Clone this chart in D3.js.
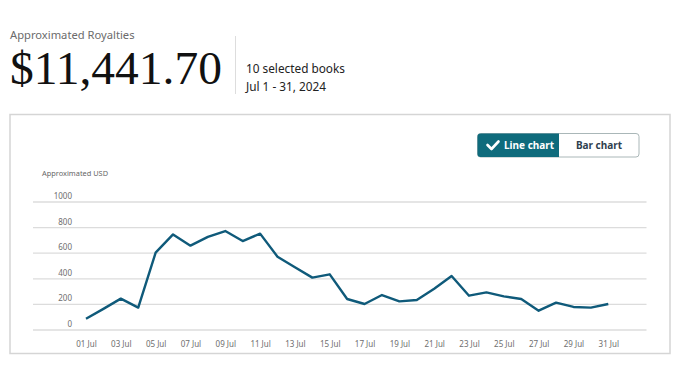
<!DOCTYPE html>
<html>
<head>
<meta charset="utf-8">
<script src="https://cdn.jsdelivr.net/npm/d3@7"></script>
<style>
  html, body { margin: 0; padding: 0; background: #fff; }
  svg { display: block; }
</style>
</head>
<body>
<svg id="chart" width="680" height="385"></svg>
<script>
const days = d3.range(1, 32);
const royalties = [88, 165, 245, 175, 604, 747, 659, 727, 773, 695, 753, 573, 490, 409, 435,
  242, 203, 273, 224, 234, 323, 422, 268, 294, 263, 242, 151, 214, 180, 175, 203];
const yTicks = [0, 200, 400, 600, 800, 1000];
const xTickDays = [1, 3, 5, 7, 9, 11, 13, 15, 17, 19, 21, 23, 25, 27, 29, 31];
const totalLabel = "$11,441.70";
const titleLabel = "Approximated Royalties";
const subLabels = ["10 selected books", "Jul 1 - 31, 2024"];
const yAxisTitle = "Approximated USD";
const toggleLabels = ["Line chart", "Bar chart"];

const sans = "'Noto Sans', 'Open Sans', sans-serif";
const svg = d3.select("#chart");

// Header
svg.append("text").attr("x", 10).attr("y", 39).attr("font-family", sans)
  .attr("font-size", 11.2).attr("fill", "#6b6b6b").text(titleLabel);
svg.append("text").attr("x", 10).attr("y", 84).attr("font-family", "'Liberation Serif', 'DejaVu Serif', serif")
  .attr("font-size", 46).attr("fill", "#111").attr("textLength", 212).attr("lengthAdjust", "spacingAndGlyphs")
  .text(totalLabel);
svg.append("line").attr("x1", 235.5).attr("x2", 235.5).attr("y1", 36).attr("y2", 94)
  .attr("stroke", "#ddd").attr("stroke-width", 1);
svg.selectAll("text.sub").data(subLabels).join("text").attr("class", "sub")
  .attr("x", 246).attr("y", (d, i) => 72.5 + i * 18).attr("font-family", sans)
  .attr("font-size", 11.8).attr("fill", "#222").text(d => d);

// Chart box
svg.append("rect").attr("x", 10).attr("y", 114.5).attr("width", 660).attr("height", 239)
  .attr("fill", "none").attr("stroke", "#d5d5d5").attr("stroke-width", 1.5);

// Toggle
const tg = svg.append("g");
tg.append("rect").attr("x", 477.5).attr("y", 133.5).attr("width", 161.5).attr("height", 23.5)
  .attr("rx", 3).attr("fill", "#fff").attr("stroke", "#aab7b8").attr("stroke-width", 1);
tg.append("path").attr("d", "M480.5,133.5 H559 V157 H480.5 A3,3 0 0 1 477.5,154 V136.5 A3,3 0 0 1 480.5,133.5 Z")
  .attr("fill", "#0f6b7c");
tg.append("path").attr("d", "M487.5,145 L491.5,149 L498.5,141.5").attr("fill", "none")
  .attr("stroke", "#fff").attr("stroke-width", 2.6).attr("stroke-linecap", "round").attr("stroke-linejoin", "round");
tg.append("text").attr("x", 504).attr("y", 149).attr("font-family", sans).attr("font-weight", 700)
  .attr("font-size", 10).attr("fill", "#fff").text(toggleLabels[0]);
tg.append("text").attr("x", 599).attr("y", 149).attr("text-anchor", "middle").attr("font-family", sans)
  .attr("font-weight", 700).attr("font-size", 10).attr("fill", "#2f3f4f").text(toggleLabels[1]);

// Scales
const x = d3.scaleLinear().domain([1, 31]).range([86, 608.3]);
const y = d3.scaleLinear().domain([0, 1000]).range([330, 202]);

// Y axis title
svg.append("text").attr("x", 42).attr("y", 176).attr("font-family", sans)
  .attr("font-size", 7.4).attr("fill", "#666").text(yAxisTitle);

// Gridlines + y labels
const yAxis = d3.axisLeft(y).tickValues(yTicks).tickSize(0).tickPadding(0).tickFormat(d3.format("d"));
const yg = svg.append("g").attr("transform", "translate(72,-6)").call(yAxis);
yg.select(".domain").remove();
yg.selectAll("text").attr("font-family", sans).attr("font-size", 8).attr("fill", "#6e6e6e");
svg.append("g").selectAll("line").data(yTicks).join("line")
  .attr("x1", 33).attr("x2", 646.5).attr("y1", d => y(d)).attr("y2", d => y(d))
  .attr("stroke", "#dcdcdc").attr("stroke-width", 1.3);

// X axis labels
const xAxis = d3.axisBottom(x).tickValues(xTickDays).tickSize(0).tickPadding(0)
  .tickFormat(d => d3.format("02d")(d) + " Jul");
const xg = svg.append("g").attr("transform", "translate(0,341)").call(xAxis);
xg.select(".domain").remove();
xg.selectAll("text").attr("font-family", sans).attr("font-size", 8).attr("fill", "#6e6e6e");

// Line
const line = d3.line().x((d, i) => x(days[i])).y(d => y(d));
svg.append("path").datum(royalties).attr("d", line).attr("fill", "none")
  .attr("stroke", "#0f5a7a").attr("stroke-width", 2.4).attr("stroke-linejoin", "round");
</script>
</body>
</html>
